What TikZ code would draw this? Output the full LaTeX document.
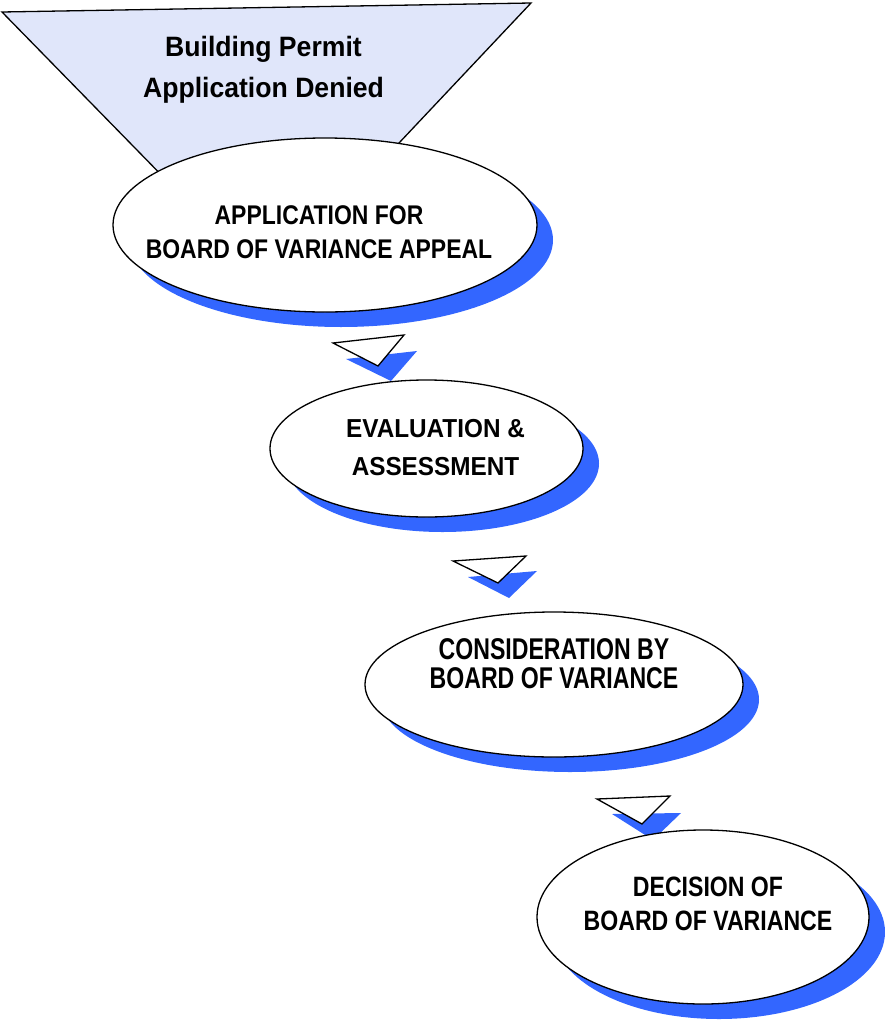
\documentclass[tikz,border=0pt]{standalone}
\usepackage{fontspec}
\setmainfont{Liberation Sans}
% narrowed faces for the labels
\newfontfamily\fontTop[FakeStretch=0.95]{Liberation Sans}
\newfontfamily\fontA[FakeStretch=0.85]{Liberation Sans}
\newfontfamily\fontB[FakeStretch=0.935]{Liberation Sans}
\newfontfamily\fontC[FakeStretch=0.77]{Liberation Sans}
\newfontfamily\fontD[FakeStretch=0.825]{Liberation Sans}
\usetikzlibrary{shapes.geometric,shadows}
\definecolor{shadowblue}{RGB}{51,102,255}
\definecolor{paleblue}{RGB}{224,230,250}
\tikzset{
  outline/.style={draw=black, line width=1.3pt, line join=miter},
  stage/.style={ellipse, outline, fill=white, inner sep=0pt,
    drop shadow={shadow xshift=16pt, shadow yshift=-15pt, fill=shadowblue, opacity=1}},
  caption/.style={align=center, inner sep=0pt, text=black},
  pointer/.style={outline, fill=white},
  pointershade/.style={fill=shadowblue, draw=none},
}
\begin{document}
\begin{tikzpicture}[x=1pt, y=-1pt]
\useasboundingbox (0,0) rectangle (885,1020);

% funnel carrying the starting condition
\coordinate (fa) at (2,12);
\coordinate (fb) at (531,3);
\coordinate (fc) at (267,283);
\draw[outline, fill=paleblue] (fa) -- (fb) -- (fc) -- cycle;

% downward pointers between the stages
\coordinate (p1a) at (333,343); \coordinate (p1b) at (404,335); \coordinate (p1c) at (378,366);
\coordinate (s1a) at (346,359); \coordinate (s1b) at (417,351); \coordinate (s1c) at (391,381);
\coordinate (p2a) at (453,561); \coordinate (p2b) at (526,556); \coordinate (p2c) at (498,583);
\coordinate (s2a) at (468,577); \coordinate (s2b) at (537,571); \coordinate (s2c) at (509,598);
\coordinate (p3a) at (597,799); \coordinate (p3b) at (670,796); \coordinate (p3c) at (642,824);
\coordinate (s3a) at (612,814); \coordinate (s3b) at (681,813); \coordinate (s3c) at (653,840);
\fill[pointershade] (s1a) -- (s1b) -- (s1c) -- cycle;
\draw[pointer] (p1a) -- (p1b) -- (p1c) -- cycle;
\fill[pointershade] (s2a) -- (s2b) -- (s2c) -- cycle;
\draw[pointer] (p2a) -- (p2b) -- (p2c) -- cycle;
\fill[pointershade] (s3a) -- (s3b) -- (s3c) -- cycle;
\draw[pointer] (p3a) -- (p3b) -- (p3c) -- cycle;

% stages
\node[stage, minimum width=424pt, minimum height=174pt] (e1) at (325,225) {};
\node[stage, minimum width=313pt, minimum height=137pt] (e2) at (426.5,448.5) {};
\node[stage, minimum width=378pt, minimum height=145pt] (e3) at (554,684.5) {};
\node[stage, minimum width=332pt, minimum height=174pt] (e4) at (703,917) {};

% labels
\node[caption, font={\fontTop\fontsize{28}{41}\bfseries}] (ttl) at (263.5,69.5)
  {Building Permit\\Application Denied};
\node[caption, font={\fontA\fontsize{27}{34}\bfseries}] (t1) at (319,232)
  {APPLICATION FOR\\BOARD OF VARIANCE APPEAL};
\node[caption, font={\fontB\fontsize{26}{38}\bfseries}] (t2) at (435.5,448)
  {EVALUATION \&\\ASSESSMENT};
\node[caption, font={\fontC\fontsize{30}{29}\bfseries}] (t3) at (554,663.5)
  {CONSIDERATION BY\\BOARD OF VARIANCE};
\node[caption, font={\fontD\fontsize{28}{34}\bfseries}] (t4) at (708,904)
  {DECISION OF\\BOARD OF VARIANCE};
\end{tikzpicture}
\end{document}
